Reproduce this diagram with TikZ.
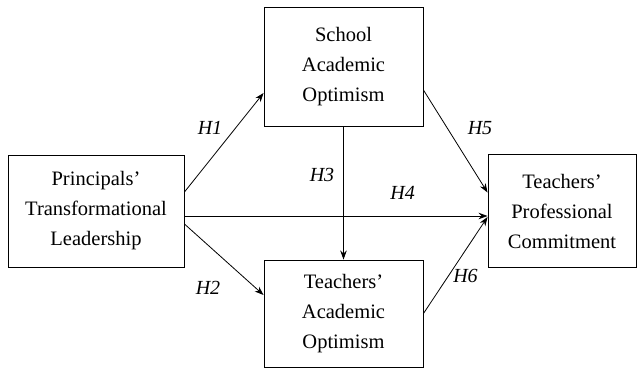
\documentclass[tikz,border=0pt]{standalone}
\usepackage{fontspec}
\setmainfont{Liberation Serif}
\usetikzlibrary{arrows.meta,positioning}

\tikzset{
	box/.style={draw, line width=0.9pt, align=center, inner sep=0pt, font=\fontsize{20.5}{30}\selectfont},
	hyp/.style={font=\fontsize{20}{24}\selectfont\itshape, inner sep=0pt},
}

\begin{document}
\begin{tikzpicture}[x=1pt, y=1pt, >={Stealth[length=9pt,width=6.5pt]}, line width=0.8pt, on grid]
		\useasboundingbox (0,0) rectangle (637,370);
		\node[box, minimum width=176pt, minimum height=112pt] (lead)   at (96,159) {Principals’\\Transformational\\Leadership};
		\node[box, minimum width=159pt, minimum height=119pt] (school) [above right=144.5pt and 247.5pt of lead] {School\\Academic\\Optimism};
		\node[box, minimum width=159pt, minimum height=107pt] (teach)  [below=247pt of school] {Teachers’\\Academic\\Optimism};
		\node[box, minimum width=148pt, minimum height=113pt] (commit) [right=466pt of lead] {Teachers’\\Professional\\Commitment};
		
		\path[->] ([yshift=19pt]lead.east) edge node[hyp, xshift=-14pt, yshift=14.5pt] (h1) {H1} ([yshift=-26.5pt]school.west)
		([yshift=-13pt]lead.east) edge node[hyp, xshift=-16pt, yshift=-28.5pt] (h2) {H2} ([yshift=18.5pt]teach.west)
		(school.south) edge node[hyp, xshift=-21.5pt, yshift=18pt] (h3) {H3} (teach.north)
		([yshift=-5pt]lead.east) edge node[hyp, pos=0.72, yshift=23pt] (h4) {H4} ([yshift=-5pt]lead.east -| commit.west)
		([yshift=-23.5pt]school.east) edge node[hyp, xshift=24.5pt, yshift=13.5pt] (h5) {H5} ([yshift=18.5pt]commit.west)
		(teach.east) edge node[hyp, xshift=10pt, yshift=-10.5pt] (h6) {H6} ([yshift=-6pt]commit.west);
	\end{tikzpicture}
\end{document}
